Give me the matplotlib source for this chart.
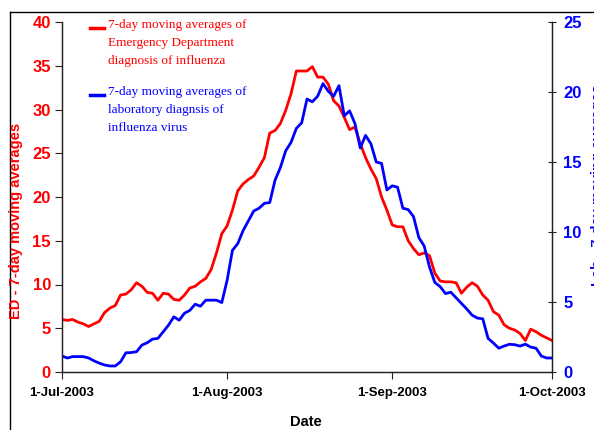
import pandas as pd
import matplotlib
matplotlib.use("Agg")
from matplotlib import pyplot as plt
from matplotlib.lines import Line2D

# 7-day moving averages, one value per day from 1-Jul-2003
ed_avg = [6.0, 5.9, 6.0, 5.7, 5.5, 5.2, 5.5, 5.8, 6.8, 7.3,
          7.6, 8.8, 8.9, 9.4, 10.2, 9.8, 9.1, 9.0, 8.2, 9.0,
          8.9, 8.3, 8.2, 8.8, 9.6, 9.8, 10.3, 10.7, 11.7, 13.6,
          15.8, 16.7, 18.5, 20.7, 21.5, 22.0, 22.4, 23.4, 24.5, 27.3,
          27.6, 28.4, 29.9, 31.8, 34.4, 34.4, 34.4, 34.9, 33.7, 33.7,
          32.9, 31.0, 30.4, 29.1, 27.7, 28.0, 26.1, 24.5, 23.2, 22.1,
          20.0, 18.5, 16.8, 16.6, 16.6, 15.0, 14.1, 13.4, 13.6, 13.3,
          11.3, 10.4, 10.3, 10.3, 10.2, 9.0, 9.7, 10.2, 9.8, 8.8,
          8.2, 6.9, 6.5, 5.4, 5.0, 4.8, 4.4, 3.6, 4.9, 4.6,
          4.2, 3.9, 3.6]
lab_avg = [1.14, 1.0, 1.1, 1.1, 1.1, 1.0, 0.8, 0.63, 0.5, 0.43,
           0.43, 0.73, 1.37, 1.39, 1.45, 1.92, 2.09, 2.35, 2.4, 2.87,
           3.35, 3.94, 3.7, 4.2, 4.4, 4.84, 4.7, 5.13, 5.13, 5.13,
           4.96, 6.55, 8.69, 9.17, 10.1, 10.8, 11.5, 11.7, 12.05, 12.1,
           13.7, 14.6, 15.8, 16.4, 17.4, 17.8, 19.5, 19.3, 19.7, 20.6,
           20.05, 19.7, 20.45, 18.3, 18.65, 17.75, 16.0, 16.9, 16.3, 15.0,
           14.9, 13.0, 13.3, 13.2, 11.7, 11.6, 11.1, 9.6, 9.0, 7.5,
           6.4, 6.1, 5.6, 5.7, 5.3, 4.9, 4.5, 4.06, 3.85, 3.8,
           2.4, 2.07, 1.7, 1.85, 1.98, 1.95, 1.85, 1.99, 1.78, 1.7,
           1.14, 1.0, 1.0]
tick_dates = ["2003-07-01", "2003-08-01", "2003-09-01", "2003-10-01"]
tick_labels = ["1-Jul-2003", "1-Aug-2003", "1-Sep-2003", "1-Oct-2003"]

RED = "#FF0000"
BLUE = "#0000FF"

plt.rcParams["font.family"] = ["Liberation Sans", "DejaVu Sans"]

dates = pd.date_range("2003-07-01", periods=len(ed_avg), freq="D")

fig = plt.figure(figsize=(5.94, 4.30), dpi=100)
ax = fig.add_axes([62 / 594, 1 - 372 / 430, 490 / 594, 350 / 430])
ax2 = ax.twinx()

ax.plot(dates, ed_avg, color=RED, lw=2.0, solid_joinstyle="round")
ax2.plot(dates, lab_avg, color=BLUE, lw=2.0, solid_joinstyle="round")

ax.set_xlim(pd.Timestamp(tick_dates[0]), pd.Timestamp(tick_dates[-1]))
ax.set_ylim(0, 40)
ax2.set_ylim(0, 25)
ax.set_yticks(range(0, 41, 5))
ax2.set_yticks(range(0, 26, 5))
ax.set_xticks([pd.Timestamp(d) for d in tick_dates])
ax.set_xticklabels(tick_labels)

for a in (ax, ax2):
    a.spines["top"].set_visible(False)
    for s in a.spines.values():
        s.set_linewidth(0.9)
        s.set_color("#222222")

ax.tick_params(axis="y", colors="#222222", labelcolor=RED, labelsize=12, length=5, pad=3)
ax.tick_params(axis="x", colors="#222222", labelcolor="black", labelsize=9.5, length=5, pad=6)
ax2.tick_params(axis="y", colors="#222222", labelcolor=BLUE, labelsize=12, length=6,
                direction="inout", pad=5)
for lab in ax.get_yticklabels() + ax2.get_yticklabels() + ax.get_xticklabels():
    lab.set_fontweight("bold")

fig.text(16 / 594, 1 - 221 / 430, "ED - 7-day moving averages", rotation=90, color=RED,
         fontsize=10.5, fontweight="bold", ha="center", va="center")
# right-hand label runs off the image edge, as in the original
fig.text(598 / 594, 1 - 185 / 430, "Lab - 7-day moving averages", rotation=90, color=BLUE,
         fontsize=10.5, fontweight="bold", ha="center", va="center")
fig.text(306 / 594, 1 - 422 / 430, "Date", fontsize=10.5, fontweight="bold",
         ha="center", va="center")

# legend drawn by hand, like the original text boxes
serif = ["Liberation Serif", "DejaVu Serif"]
fig.add_artist(Line2D([90 / 594, 104 / 594], [1 - 28 / 430] * 2, color=RED, lw=2.5))
fig.text(108 / 594, 1 - 19 / 430,
         "7-day moving averages of\nEmergency Department\ndiagnosis of influenza",
         color=RED, fontsize=9.5, family=serif, ha="left", va="top", linespacing=1.65)
fig.add_artist(Line2D([90 / 594, 104 / 594], [1 - 95 / 430] * 2, color=BLUE, lw=2.5))
fig.text(108 / 594, 1 - 86 / 430,
         "7-day moving averages of\nlaboratory diagnsis of\ninfluenza virus",
         color=BLUE, fontsize=9.5, family=serif, ha="left", va="top", linespacing=1.65)

# outer frame, cut by the image edge on the right and bottom
fig.add_artist(Line2D([10 / 594, 1.0], [1 - 12 / 430] * 2, color="black", lw=1.0))
fig.add_artist(Line2D([10 / 594] * 2, [0.0, 1 - 12 / 430], color="black", lw=1.0))

fig.savefig("out.png", dpi=100)
